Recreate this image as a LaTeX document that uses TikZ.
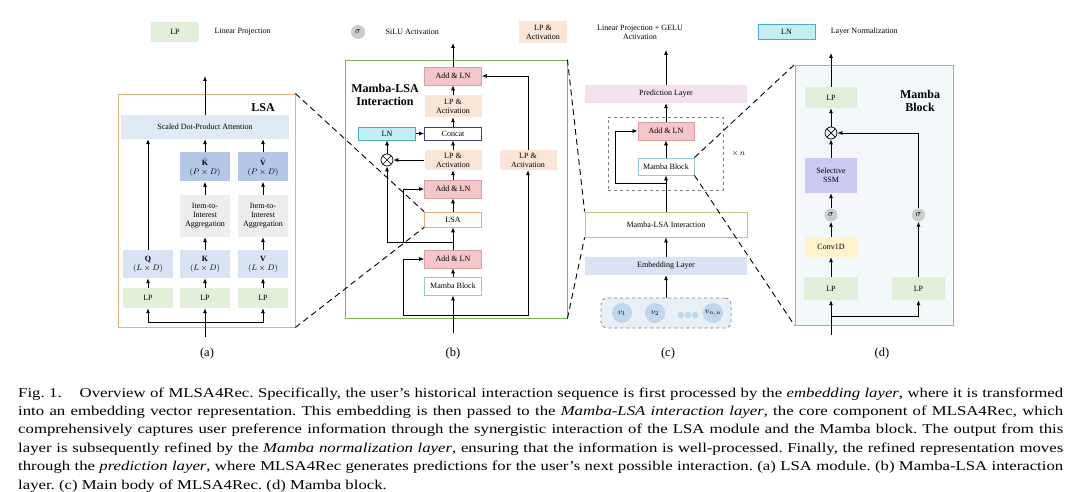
\documentclass[tikz,border=0pt]{standalone}
\usepackage{amsmath}
\usepackage{fontspec}
\setmainfont{Liberation Serif}
\newfontfamily\capfont[Ligatures=TeX, FakeStretch=1.24]{Liberation Serif}
\usetikzlibrary{positioning,arrows.meta}

\definecolor{lpgreen}{HTML}{E2EFD9}
\definecolor{actpeach}{HTML}{FBE5D6}
\definecolor{lncyan}{HTML}{C4EEF6}
\definecolor{lnedge}{HTML}{4BACC6}
\definecolor{addpink}{HTML}{F4C6C8}
\definecolor{addedge}{HTML}{D9A0A8}
\definecolor{qkvblue}{HTML}{DAE3F3}
\definecolor{tildeblue}{HTML}{B4C7E7}
\definecolor{agggray}{HTML}{EDEDED}
\definecolor{lsaorange}{HTML}{E0B080}
\definecolor{mlgreen}{HTML}{7DB45A}
\definecolor{mambaedge}{HTML}{9DC3E6}
\definecolor{concatedge}{HTML}{403A80}
\definecolor{predpink}{HTML}{F3E1EE}
\definecolor{interedge}{HTML}{B8C98E}
\definecolor{seqfill}{HTML}{E9EFF7}
\definecolor{vblue}{HTML}{BDD7EE}
\definecolor{dpanel}{HTML}{F3F8FB}
\definecolor{dedge}{HTML}{95AFC5}
\definecolor{ssmviolet}{HTML}{CACAF4}
\definecolor{convyellow}{HTML}{FFF2CC}

\begin{document}
\begin{tikzpicture}[
  x=1pt, y=-1pt,
  box/.style={minimum width=57pt, minimum height=18pt, inner sep=1pt,
              align=center, font=\fontsize{8}{9}\selectfont},
  lp/.style={box, fill=lpgreen},
  act/.style={box, fill=actpeach},
  addln/.style={box, fill=addpink, draw=addedge, line width=0.6pt},
  lnbox/.style={box, fill=lncyan, draw=lnedge, line width=0.6pt},
  mblock/.style={box, fill=white, draw=mambaedge, line width=0.8pt},
  sig/.style={circle, fill=gray!40, minimum size=13pt, inner sep=0pt,
              font=\fontsize{9}{9}\selectfont},
  prod/.style={circle, draw, line width=0.7pt, minimum size=12pt, inner sep=0pt,
               path picture={\draw[line width=0.7pt]
                 (path picture bounding box.north west) -- (path picture bounding box.south east)
                 (path picture bounding box.north east) -- (path picture bounding box.south west);}},
  vc/.style={circle, fill=vblue, minimum size=20pt, inner sep=0pt,
             font=\fontsize{8}{8}\selectfont},
  frame/.style={inner sep=0pt, line width=0.9pt},
  ttl/.style={font=\fontsize{12}{13}\bfseries\selectfont, align=center},
  lbl/.style={font=\fontsize{8}{9}\selectfont, align=center},
  panellbl/.style={font=\fontsize{12.5}{13}\selectfont},
  capline/.style={anchor=base west, inner sep=0pt,
                  font=\capfont\fontsize{13.5}{16}\selectfont\frenchspacing},
  ln/.style={line width=0.8pt},
  arr/.style={-{Latex[length=5pt,width=4pt]}, line width=0.8pt},
  zoomln/.style={dash pattern=on 6pt off 4pt, line width=0.9pt}
]
\fill[white] (0,0) rectangle (1080,492);
\useasboundingbox (0,0) rectangle (1080,492);

% ===== Key =====
\node[lp, minimum width=48pt, minimum height=20pt] (kLP) at (175,32) {LP};
\node[lbl, right=12pt of kLP] (kLPt) {Linear Projection};
\node[sig, minimum size=14pt] (kSig) at (358,32) {$\sigma$};
\node[lbl, right=17pt of kSig] (kSigt) {SiLU Activation};
\node[act, minimum width=48pt, minimum height=22pt] (kAct) at (543,32) {LP \&\\Activation};
\node[lbl] (kActt) at (640,32) {Linear Projection + GELU\\Activation};
\node[lnbox, minimum height=15pt] (kLN) at (786.5,32) {LN};
\node[lbl, right=12pt of kLN] (kLNt) {Layer Normalization};

% ===== (a) LSA module =====
\node[frame, draw=lsaorange, minimum width=177pt, minimum height=233pt] (lsaF) at (206.5,210.5) {};
\node[ttl] (lsaT) at (263,108) {LSA};
\node[box, fill=qkvblue!80, minimum width=168pt, minimum height=24pt] (sdpa) at (205,127) {Scaled Dot-Product Attention};
\node[box, fill=tildeblue, minimum width=50pt, minimum height=29pt] (kt) at (205,167) {$\tilde{\mathbf{K}}$\\$(P\times D)$};
\node[box, fill=tildeblue, minimum width=50pt, minimum height=29pt] (vt) at (263,167) {$\tilde{\mathbf{V}}$\\$(P\times D)$};
\node[box, fill=agggray, minimum width=50pt, minimum height=42pt] (aggk) at (205,216) {Item-to-\\Interest\\Aggregation};
\node[box, fill=agggray, minimum width=50pt, minimum height=42pt] (aggv) at (263,216) {Item-to-\\Interest\\Aggregation};
\node[box, fill=qkvblue, minimum width=50pt, minimum height=28pt] (q) at (148,264) {$\mathbf{Q}$\\$(L\times D)$};
\node[box, fill=qkvblue, minimum width=50pt, minimum height=28pt] (k) at (205,264) {$\mathbf{K}$\\$(L\times D)$};
\node[box, fill=qkvblue, minimum width=50pt, minimum height=28pt] (v) at (263,264) {$\mathbf{V}$\\$(L\times D)$};
\node[lp, minimum width=50pt, minimum height=20pt] (lpq) at (148,298) {LP};
\node[lp, minimum width=50pt, minimum height=20pt] (lpk) at (205,298) {LP};
\node[lp, minimum width=50pt, minimum height=20pt] (lpv) at (263,298) {LP};
\coordinate (aIn) at (205,337);
\coordinate (aSplit) at (205,322);
\coordinate (aOut) at (205,76);
\draw[ln] (aIn) -- (aSplit);
\draw[arr] (aSplit) -| (lpq);
\draw[arr] (aSplit) -- (lpk);
\draw[arr] (aSplit) -| (lpv);
\draw[arr] (lpq) -- (q);
\draw[arr] (lpk) -- (k);
\draw[arr] (lpv) -- (v);
\draw[arr] (q) -- (q |- sdpa.south);
\draw[arr] (k) -- (aggk);
\draw[arr] (v) -- (aggv);
\draw[arr] (aggk) -- (kt);
\draw[arr] (aggv) -- (vt);
\draw[arr] (kt) -- (kt |- sdpa.south);
\draw[arr] (vt) -- (vt |- sdpa.south);
\draw[arr] (sdpa) -- (aOut);

% ===== (b) Mamba-LSA interaction layer =====
\node[frame, draw=mlgreen, minimum width=222pt, minimum height=258pt] (mlF) at (456,189) {};
\node[ttl] (mlT) at (385,95) {Mamba-LSA\\Interaction};
\node[addln] (addT) at (453,76) {Add \& LN};
\node[act, minimum height=22pt] (lpaT) at (453,106) {LP \&\\Activation};
\node[box, fill=white, draw=concatedge, line width=0.6pt, minimum height=13pt] (concat) at (453,133.5) {Concat};
\node[lnbox, minimum height=13pt] (lnB) at (387,133.5) {LN};
\node[prod] (otB) at (387,160) {};
\node[act, minimum height=20pt] (lpaM) at (453,160) {LP \&\\Activation};
\node[act, minimum height=20pt] (lpaR) at (528,160) {LP \&\\Activation};
\node[addln] (addM) at (453,189) {Add \& LN};
\node[box, fill=orange!3, draw=lsaorange, line width=0.6pt, minimum height=15pt] (lsaB) at (453,219.5) {LSA};
\node[addln] (addB) at (453,259) {Add \& LN};
\node[mblock] (mambaB) at (453,286) {Mamba Block};
\coordinate (bIn) at (453,333);
\coordinate (bSplit) at (453,315);
\coordinate (bRes) at (403,315);
\coordinate (bTap) at (453,242);
\coordinate (bTap2) at (403,242);
\coordinate (bOut) at (453,43);
\draw[arr] (bIn) -- (mambaB);
\draw[arr] (bSplit) -- (bRes) |- (addB);
\draw[arr] (bSplit) -| (lpaR);
\draw[arr] (lpaR) |- (addT);
\draw[arr] (mambaB) -- (addB);
\draw[arr] (addB) -- (lsaB);
\draw[arr] (bTap) -| (otB);
\draw[arr] (bTap2) |- (addM);
\draw[arr] (lsaB) -- (addM);
\draw[arr] (addM) -- (lpaM);
\draw[arr] (lpaM) -- (concat);
\draw[arr] (lpaM) -- (otB);
\draw[arr] (otB) -- (lnB);
\draw[arr] (lnB) -- (concat);
\draw[arr] (concat) -- (lpaT);
\draw[arr] (lpaT) -- (addT);
\draw[arr] (addT) -- (bOut);

% ===== (c) Main body =====
\node[box, fill=predpink, minimum width=162pt] (pred) at (666,94) {Prediction Layer};
\node[draw=gray, dashed, line width=0.7pt, minimum width=115pt, minimum height=73pt] (rep) at (665.5,153.5) {};
\node[lbl, right=5pt of rep] (repN) {$\times\,n$};
\node[addln, minimum width=56pt] (addC) at (666,131) {Add \& LN};
\node[mblock, minimum width=56pt, minimum height=17pt] (mambaC) at (666,166.5) {Mamba Block};
\node[box, fill=white, draw=interedge, line width=0.8pt, minimum width=162pt, minimum height=25pt] (inter) at (666,224.5) {Mamba-LSA Interaction};
\node[box, fill=qkvblue, minimum width=162pt] (emb) at (666,266) {Embedding Layer};
\node[draw=gray, dashed, line width=0.7pt, rounded corners=6pt, fill=seqfill,
      minimum width=130pt, minimum height=30pt] (seq) at (666,313) {};
\node[vc] (v1) at (622,313) {$v_1$};
\node[vc] (v2) at (655,313) {$v_2$};
\node[vc] (vn) at (713,313) {$v_{n,u}$};
\foreach \x in {681,688,695}
  \fill[vblue] (\x,315) circle (3.3);
\coordinate (cTap) at (666,183);
\coordinate (cRes) at (615,183);
\coordinate (cOut) at (666,50);
\draw[arr] (seq) -- (emb);
\draw[arr] (emb) -- (inter);
\draw[arr] (inter) -- (mambaC);
\draw[arr] (cTap) -- (cRes) |- (addC);
\draw[arr] (mambaC) -- (addC);
\draw[arr] (addC) -- (pred);
\draw[arr] (pred) -- (cOut);

% ===== (d) Mamba block =====
\node[frame, draw=dedge, fill=dpanel, minimum width=158pt, minimum height=260pt] (mbF) at (874,195) {};
\node[ttl] (mbT) at (920,101) {Mamba\\Block};
\node[lp, minimum width=52pt, minimum height=21pt] (lpD) at (831,97.5) {LP};
\node[prod] (otD) at (831,133) {};
\node[box, fill=ssmviolet, minimum width=52pt, minimum height=35pt] (ssm) at (831,175.5) {Selective\\SSM};
\node[sig] (sigL) at (831,215) {$\sigma$};
\node[sig] (sigR) at (918.5,215) {$\sigma$};
\node[box, fill=convyellow, minimum width=52pt, minimum height=20pt] (conv) at (831,247) {Conv1D};
\node[lp, minimum width=54pt, minimum height=23pt] (lpL) at (831,288.5) {LP};
\node[lp, minimum width=53pt, minimum height=23pt] (lpR) at (918.5,288.5) {LP};
\coordinate (dIn) at (831,335);
\coordinate (dSplit) at (831,316);
\coordinate (dOut) at (831,53);
\draw[arr] (dIn) -- (lpL);
\draw[arr] (dSplit) -| (lpR);
\draw[arr] (lpL) -- (conv);
\draw[arr] (conv) -- (sigL);
\draw[arr] (sigL) -- (ssm);
\draw[arr] (ssm) -- (otD);
\draw[arr] (otD) -- (lpD);
\draw[arr] (lpD) -- (dOut);
\draw[arr] (lpR) -- (sigR);
\draw[arr] (sigR) |- (otD);

% ===== zoom lines =====
\draw[zoomln] (lsaF.north east) -- (lsaB.north west);
\draw[zoomln] (lsaF.south east) -- (lsaB.south west);
\draw[zoomln] (mlF.north east) -- (inter.north west);
\draw[zoomln] (mlF.south east) -- (inter.south west);
\draw[zoomln] (mambaC.north east) -- (mbF.north west);
\draw[zoomln] (mambaC.south east) -- (mbF.south west);

% ===== panel labels =====
\node[panellbl] (la) at (207,353) {(a)};
\node[panellbl] (lb) at (453,353) {(b)};
\node[panellbl] (lc) at (668,353) {(c)};
\node[panellbl] (ld) at (882,353) {(d)};

% ===== caption =====
\node[capline] (cap1) at (18,397) {\makebox[1045pt][s]{Fig. 1.\hspace{1em} Overview of MLSA4Rec. Specifically, the user's historical interaction sequence is first processed by the \emph{embedding layer}, where it is transformed}};
\node[capline] (cap2) at (18,415.4) {\makebox[1045pt][s]{into an embedding vector representation. This embedding is then passed to the \emph{Mamba-LSA interaction layer}, the core component of MLSA4Rec, which}};
\node[capline] (cap3) at (18,433.8) {\makebox[1045pt][s]{comprehensively captures user preference information through the synergistic interaction of the LSA module and the Mamba block. The output from this}};
\node[capline] (cap4) at (18,452.2) {\makebox[1045pt][s]{layer is subsequently refined by the \emph{Mamba normalization layer}, ensuring that the information is well-processed. Finally, the refined representation moves}};
\node[capline] (cap5) at (18,470.6) {\makebox[1045pt][s]{through the \emph{prediction layer}, where MLSA4Rec generates predictions for the user's next possible interaction. (a) LSA module. (b) Mamba-LSA interaction}};
\node[capline] (cap6) at (18,489) {layer. (c) Main body of MLSA4Rec. (d) Mamba block.};
\end{tikzpicture}
\end{document}
